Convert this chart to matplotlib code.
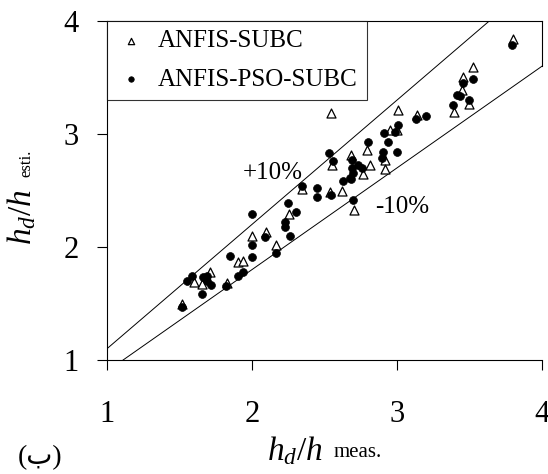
import matplotlib
matplotlib.use("Agg")
import matplotlib.pyplot as plt
import numpy as np

# ---- data ----
subc_meas = [1.517, 1.600, 1.655, 1.710, 1.828, 1.903, 1.938, 2.000, 2.097, 2.166,
             2.255, 2.345, 2.538, 2.545, 2.552, 2.683, 2.621, 2.703, 2.814, 2.766,
             2.793, 2.917, 2.917, 2.952, 3.000, 3.007, 3.138, 3.393, 3.497, 3.448,
             3.455, 3.524, 3.800]
subc_esti = [1.494, 1.688, 1.671, 1.777, 1.680, 1.865, 1.874, 2.094, 2.130, 2.015,
             2.289, 2.509, 2.483, 3.189, 2.730, 2.818, 2.500, 2.324, 2.730, 2.642,
             2.862, 2.774, 2.686, 3.039, 3.039, 3.215, 3.171, 3.198, 3.268, 3.392,
             3.507, 3.595, 3.842]

pso_meas = [1.517, 1.552, 1.586, 1.655, 1.662, 1.690, 1.690, 1.717, 1.821, 1.848,
            1.903, 1.938, 2.000, 2.000, 2.000, 2.090, 2.166, 2.228, 2.228, 2.248,
            2.262, 2.303, 2.345, 2.448, 2.448, 2.531, 2.559, 2.545, 2.628, 2.683,
            2.690, 2.690, 2.697, 2.697, 2.676, 2.731, 2.759, 2.800, 2.903, 2.897,
            2.910, 2.938, 2.986, 3.000, 3.007, 3.131, 3.200, 3.386, 3.414, 3.434,
            3.455, 3.497, 3.524, 3.793]
pso_esti = [1.468, 1.697, 1.741, 1.583, 1.733, 1.741, 1.697, 1.662, 1.653, 1.918,
            1.741, 1.777, 1.909, 2.015, 2.289, 2.086, 1.944, 2.174, 2.218, 2.386,
            2.094, 2.306, 2.536, 2.518, 2.439, 2.836, 2.765, 2.456, 2.580, 2.606,
            2.774, 2.703, 2.659, 2.412, 2.615, 2.730, 2.703, 2.933, 2.845, 2.792,
            3.012, 2.933, 3.021, 2.845, 3.083, 3.136, 3.162, 3.259, 3.348, 3.339,
            3.454, 3.304, 3.489, 3.789]

band_factors = [1.1, 0.9]
band_labels = ["+10%", "-10%"]
ticks = [1, 2, 3, 4]
series_labels = ["ANFIS-SUBC", "ANFIS-PSO-SUBC"]

# ---- style ----
serif = ["Liberation Serif", "DejaVu Sans"]
plt.rcParams["font.family"] = serif
plt.rcParams["mathtext.fontset"] = "custom"
plt.rcParams["mathtext.rm"] = "Liberation Serif"
plt.rcParams["mathtext.it"] = "Liberation Serif:italic"

fig = plt.figure(figsize=(5.48, 4.74), dpi=100)
ax = fig.add_axes([107 / 548, 1 - 360 / 474, 435 / 548, 339 / 474])

ax.set_xlim(1, 4)
ax.set_ylim(1, 4)

xs = np.array([1.0, 4.0])
for f in band_factors:
    ax.plot(xs, f * xs, color="black", lw=0.7, zorder=1)

ax.scatter(subc_meas, subc_esti, marker="^", s=42, facecolor="white",
           edgecolor="black", linewidth=0.9, zorder=2, label=series_labels[0])
ax.scatter(pso_meas, pso_esti, marker="o", s=32, facecolor="black",
           edgecolor="black", linewidth=0.5, zorder=3, label=series_labels[1])

ax.text(1.938, 2.606, band_labels[0], fontsize=18, ha="left", va="baseline")
ax.text(2.848, 2.297, band_labels[1], fontsize=18, ha="left", va="baseline")

ax.set_xticks(ticks)
ax.set_yticks(ticks)
ax.set_xticklabels([str(t) for t in ticks])
ax.set_yticklabels([str(t) for t in ticks])
ax.tick_params(axis="x", direction="out", length=7.5, width=0.8, labelsize=22, pad=21)
ax.tick_params(axis="y", direction="out", length=7.5, width=0.8, labelsize=22, pad=13)

for s in ax.spines.values():
    s.set_linewidth(0.8)
ax.spines["right"].set_bounds(band_factors[1] * 4, 4)

ax.set_xlabel(r"$h_{d}/h$", fontsize=24)
ax.xaxis.set_label_coords(0.432, -0.22)
ax.annotate("meas.", xy=(1, 0.0), xycoords=ax.xaxis.label, xytext=(8, 4),
            textcoords="offset points", fontsize=15, ha="left", va="bottom")

ax.set_ylabel(r"$h_{d}/h$", fontsize=24)
ax.yaxis.set_label_coords(-0.158, 0.42)
ax.annotate("esti.", xy=(1, 1), xycoords=ax.yaxis.label, xytext=(-3, 9),
            textcoords="offset points", fontsize=12, rotation=90,
            ha="right", va="bottom")

leg = ax.legend(loc="upper left", bbox_to_anchor=(0, 1), borderaxespad=0,
                fontsize=18, frameon=True, fancybox=False, edgecolor="black",
                handletextpad=0.5, borderpad=0.35, labelspacing=0.65,
                handlelength=1.2, markerscale=0.7)
leg.get_frame().set_linewidth(0.8)

fig.text(18 / 548, 1 - 470 / 474, "(ب)", fontsize=20, family=serif,
         ha="left", va="bottom")

fig.savefig("out.png", dpi=100)
